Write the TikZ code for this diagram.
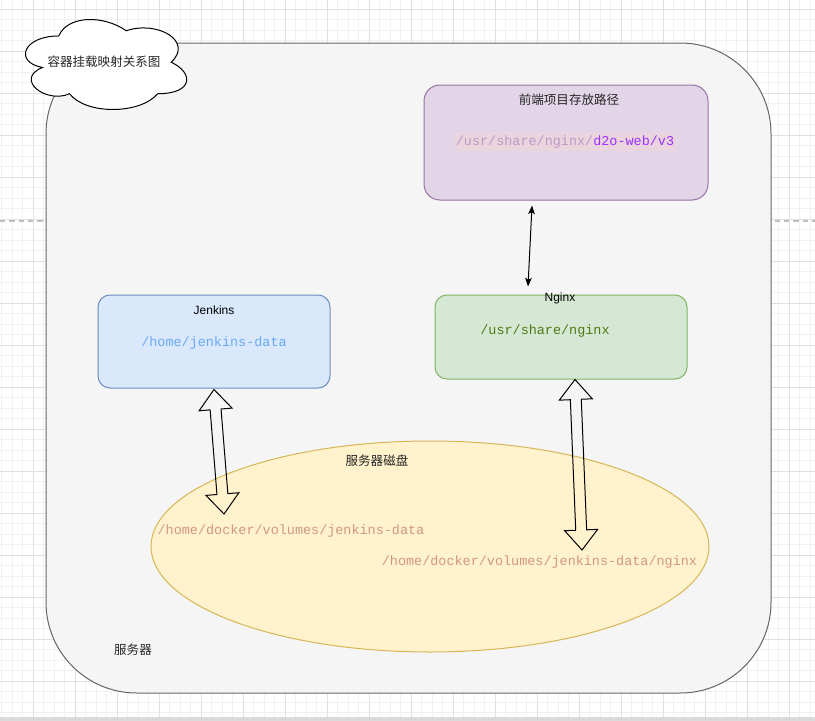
\documentclass[tikz,border=0pt]{standalone}
\usepackage{fontspec}
\setmainfont{Liberation Sans}
\newfontfamily\cjk{Noto Sans CJK SC}
\newfontfamily\monof{Liberation Mono}
\usetikzlibrary{shapes.geometric,arrows.meta,calc}
\definecolor{gminor}{HTML}{F1F1F1}
\definecolor{gmajor}{HTML}{E0E0E0}
\definecolor{contfill}{HTML}{F5F5F5}
\definecolor{contline}{HTML}{666666}
\definecolor{purfill}{HTML}{E1D5E7}
\definecolor{purline}{HTML}{9673A6}
\definecolor{bluefill}{HTML}{DAE8FC}
\definecolor{blueline}{HTML}{6C8EBF}
\definecolor{grnfill}{HTML}{D5E8D4}
\definecolor{grnline}{HTML}{82B366}
\definecolor{yelfill}{HTML}{FFF2CC}
\definecolor{yelline}{HTML}{D6B656}
\definecolor{pathpink}{HTML}{BF98C4}
\definecolor{hlpink}{HTML}{EAD4DE}
\definecolor{violet}{HTML}{9B30FF}
\definecolor{jblue}{HTML}{69AAF5}
\definecolor{ngreen}{HTML}{4F7A12}
\definecolor{diskpath}{HTML}{D19880}
\newcommand{\flexarrow}[2]{%
\draw[blockarrow] (#1) -- ($(#1)!15pt!(#2)!12.4pt!90:(#2)$) -- ($(#1)!15pt!(#2)!4.1pt!90:(#2)$)
 -- ($(#2)!15pt!(#1)!4.1pt!-90:(#1)$) -- ($(#2)!15pt!(#1)!12.4pt!-90:(#1)$) -- (#2)
 -- ($(#2)!15pt!(#1)!12.4pt!90:(#1)$) -- ($(#2)!15pt!(#1)!4.1pt!90:(#1)$)
 -- ($(#1)!15pt!(#2)!4.1pt!-90:(#2)$) -- ($(#1)!15pt!(#2)!12.4pt!-90:(#2)$) -- cycle;}
\begin{document}
\begin{tikzpicture}[x=0.75pt,y=-0.75pt,
  gridminor/.style={draw=gminor,line width=0.75pt},
  gridmajor/.style={draw=gmajor,line width=0.75pt},
  box/.style={draw,line width=0.75pt,rectangle,inner sep=0pt},
  cn/.style={font=\cjk\fontsize{9.4pt}{11pt}\selectfont,inner sep=0pt},
  ln/.style={font=\fontsize{9pt}{11pt}\selectfont,inner sep=0pt},
  mono/.style={font=\monof\fontsize{10.1pt}{12pt}\selectfont,inner sep=0pt},
  blockarrow/.style={draw=black,line width=0.75pt,line join=miter},
  thin/.style={draw=black,line width=0.75pt,{Stealth[length=6.5pt,width=5pt,inset=1.5pt]}-{Stealth[length=6.5pt,width=5pt,inset=1.5pt]}}]
\useasboundingbox (0,0) rectangle (815,721);
\fill[white] (0,0) rectangle (815,721);
\foreach \i in {0,...,77} \draw[gridminor] ({1.5+10.5*\i},0) -- ({1.5+10.5*\i},717);
\foreach \j in {0,...,68} \draw[gridminor] (0,{-1.5+10.5*\j}) -- (815,{-1.5+10.5*\j});
\foreach \i in {0,...,18} \draw[gridmajor] ({33+42*\i},0) -- ({33+42*\i},717);
\foreach \j in {0,...,16} \draw[gridmajor] (0,{9+42*\j}) -- (815,{9+42*\j});
\draw[draw=gmajor!85!black,line width=1.2pt,dash pattern=on 4pt off 3pt] (0,221) -- (815,221);
\fill[gminor!80!gray] (0,717) rectangle (815,721);
% container
\node[box,draw=contline,fill=contfill,rounded corners=68pt,minimum width=543.75pt,minimum height=487.5pt] (server) at (408.5,368) {};
\node[cn,text=black!85] (serverlbl) at (133,650) {服务器};
% disk
\node[ellipse,draw=yelline,fill=yelfill,line width=0.75pt,inner sep=0pt,minimum width=418.5pt,minimum height=158.25pt] (disk) at (430,546.5) {};
\node[cn,text=black!85] (disklbl) at (377,461) {服务器磁盘};
\node[mono,text=diskpath] (diskj) at (291,531) {/home/docker/volumes/jenkins-data};
\node[mono,text=diskpath] (diskn) at (539.5,562) {/home/docker/volumes/jenkins-data/nginx};
% front-end box
\node[box,draw=purline,fill=purfill,rounded corners=12pt,minimum width=213pt,minimum height=86.25pt] (front) at (566,142.5) {};
\node[cn,text=black!85] (frontlbl) at (569,100) {前端项目存放路径};
\node[mono,fill=hlpink,inner ysep=2pt,inner xsep=1pt] (frontpath) at (565,142) {\textcolor{pathpink}{/usr/share/nginx/}\textcolor{violet}{d2o-web/v3}};
% jenkins box
\node[box,draw=blueline,fill=bluefill,rounded corners=9pt,minimum width=174pt,minimum height=69.75pt] (jenkins) at (214,341.5) {};
\node[ln] (jenkinslbl) at (214,310) {Jenkins};
\node[mono,text=jblue] (jenkinspath) at (214,343) {/home/jenkins-data};
% nginx box
\node[box,draw=grnline,fill=grnfill,rounded corners=9pt,minimum width=189pt,minimum height=63pt] (nginx) at (561,337) {};
\node[ln] (nginxlbl) at (560,298) {Nginx};
\node[mono,text=ngreen] (nginxpath) at (545,331) {/usr/share/nginx};
% connectors
\coordinate (pa) at ($(front.south)+(-34,5)$);
\coordinate (pb) at ($(nginx.north)+(-33,-8)$);
\draw[thin] (pa) -- (pb);
\coordinate (ja) at ($(jenkins.south)+(0,1)$);
\coordinate (jb) at (224,514);
\flexarrow{ja}{jb}
\coordinate (na) at ($(nginx.south)+(14,0)$);
\coordinate (nb) at (582,550);
\flexarrow{na}{nb}
% cloud title
\node[inner sep=0pt,minimum width=135pt,minimum height=78.75pt] (cloud) at (104,62.5) {};
\begin{scope}[shift={(cloud.north west)},x=135pt,y=-78.75pt]
\draw[fill=white,draw=black,line width=0.75pt]
 (0.25,0.25) .. controls (0.05,0.25) and (0,0.5) .. (0.16,0.55)
 .. controls (0,0.66) and (0.18,0.9) .. (0.31,0.8)
 .. controls (0.4,1) and (0.7,1) .. (0.8,0.8)
 .. controls (1,0.8) and (1,0.6) .. (0.875,0.5)
 .. controls (1,0.3) and (0.8,0.1) .. (0.625,0.2)
 .. controls (0.5,0.05) and (0.3,0.05) .. (0.25,0.25) -- cycle;
\end{scope}
\node[cn,text=black!85] (cloudlbl) at (104,62) {容器挂载映射关系图};
\end{tikzpicture}
\end{document}
